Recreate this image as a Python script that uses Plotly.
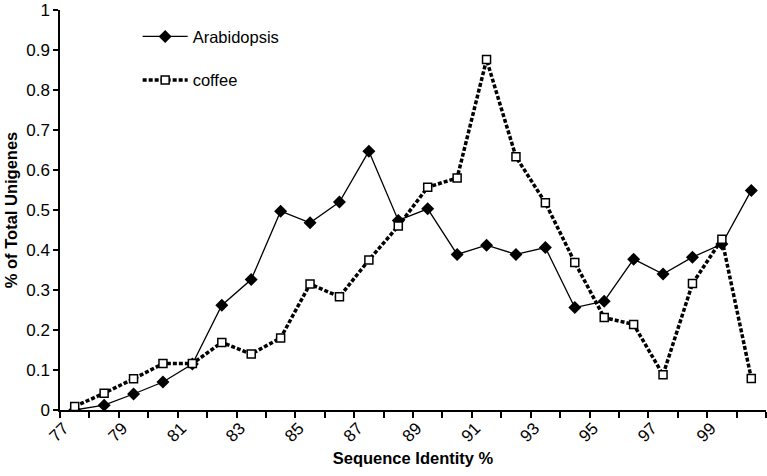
import plotly.graph_objects as go

identity = list(range(77, 101))
arabidopsis = [0.0, 0.012, 0.040, 0.070, 0.115, 0.262, 0.326, 0.497, 0.468, 0.520,
               0.647, 0.474, 0.503, 0.389, 0.412, 0.389, 0.406, 0.256, 0.272, 0.377,
               0.340, 0.382, 0.415, 0.549]
coffee = [0.009, 0.042, 0.078, 0.116, 0.116, 0.169, 0.140, 0.180, 0.315, 0.283,
          0.375, 0.460, 0.557, 0.580, 0.876, 0.633, 0.518, 0.369, 0.231, 0.214,
          0.088, 0.316, 0.427, 0.079]
x_tick_vals = list(range(77, 101, 2))
x_tick_text = [str(v) for v in x_tick_vals]

FONT = "Arial, Liberation Sans, Helvetica, sans-serif"

fig = go.Figure()
fig.add_trace(go.Scatter(
    x=identity, y=arabidopsis, name="Arabidopsis", mode="lines+markers",
    line=dict(color="black", width=1.3),
    marker=dict(symbol="diamond", size=10, color="black"),
    legendgroup="a",
))
fig.add_trace(go.Scatter(
    x=identity, y=coffee, name="coffee", mode="lines+markers",
    line=dict(color="black", width=3.5, dash="4px,2px"),
    marker=dict(symbol="square", size=8, color="white",
                line=dict(color="black", width=1.5)),
    legendgroup="b",
))

fig.update_layout(
    width=767, height=476,
    margin=dict(l=60, r=1, t=6, b=66),
    paper_bgcolor="white", plot_bgcolor="white",
    font=dict(family=FONT, color="black", size=17),
    showlegend=True,
    legend=dict(x=0.110, y=0.977, xanchor="left", yanchor="top",
                bgcolor="rgba(0,0,0,0)", font=dict(size=16.5),
                tracegroupgap=19, itemwidth=45),
    xaxis=dict(
        range=[76.5, 100.5], tickmode="array", tickvals=x_tick_vals,
        ticktext=x_tick_text, ticks="", tickangle=-45,
        ticklabelshift=-11,
        showgrid=False, zeroline=False, showline=True, linecolor="black",
        linewidth=1.5,
        minor=dict(tick0=76.5, dtick=1, ticks="outside", ticklen=6,
                   tickcolor="black", tickwidth=1.5, showgrid=False),
        title=dict(text="<b>Sequence Identity %</b>", font=dict(size=16.5),
                   standoff=8),
        tickfont=dict(size=17),
        ticklabeloverflow="allow",
    ),
    yaxis=dict(
        range=[0, 1], dtick=0.1, tick0=0, ticks="outside", ticklen=5,
        tickcolor="black", tickwidth=1.5,
        showgrid=False, zeroline=False, showline=True, linecolor="black",
        linewidth=1.5,
        title=dict(text="<b>% of Total Unigenes</b>", font=dict(size=16.5),
                   standoff=4),
        tickfont=dict(size=17),
        ticklabeloverflow="allow",
    ),
)

fig.write_html("out.html", config={"displayModeBar": False},
               post_script="document.body.style.margin='0';document.body.style.overflow='hidden';")
